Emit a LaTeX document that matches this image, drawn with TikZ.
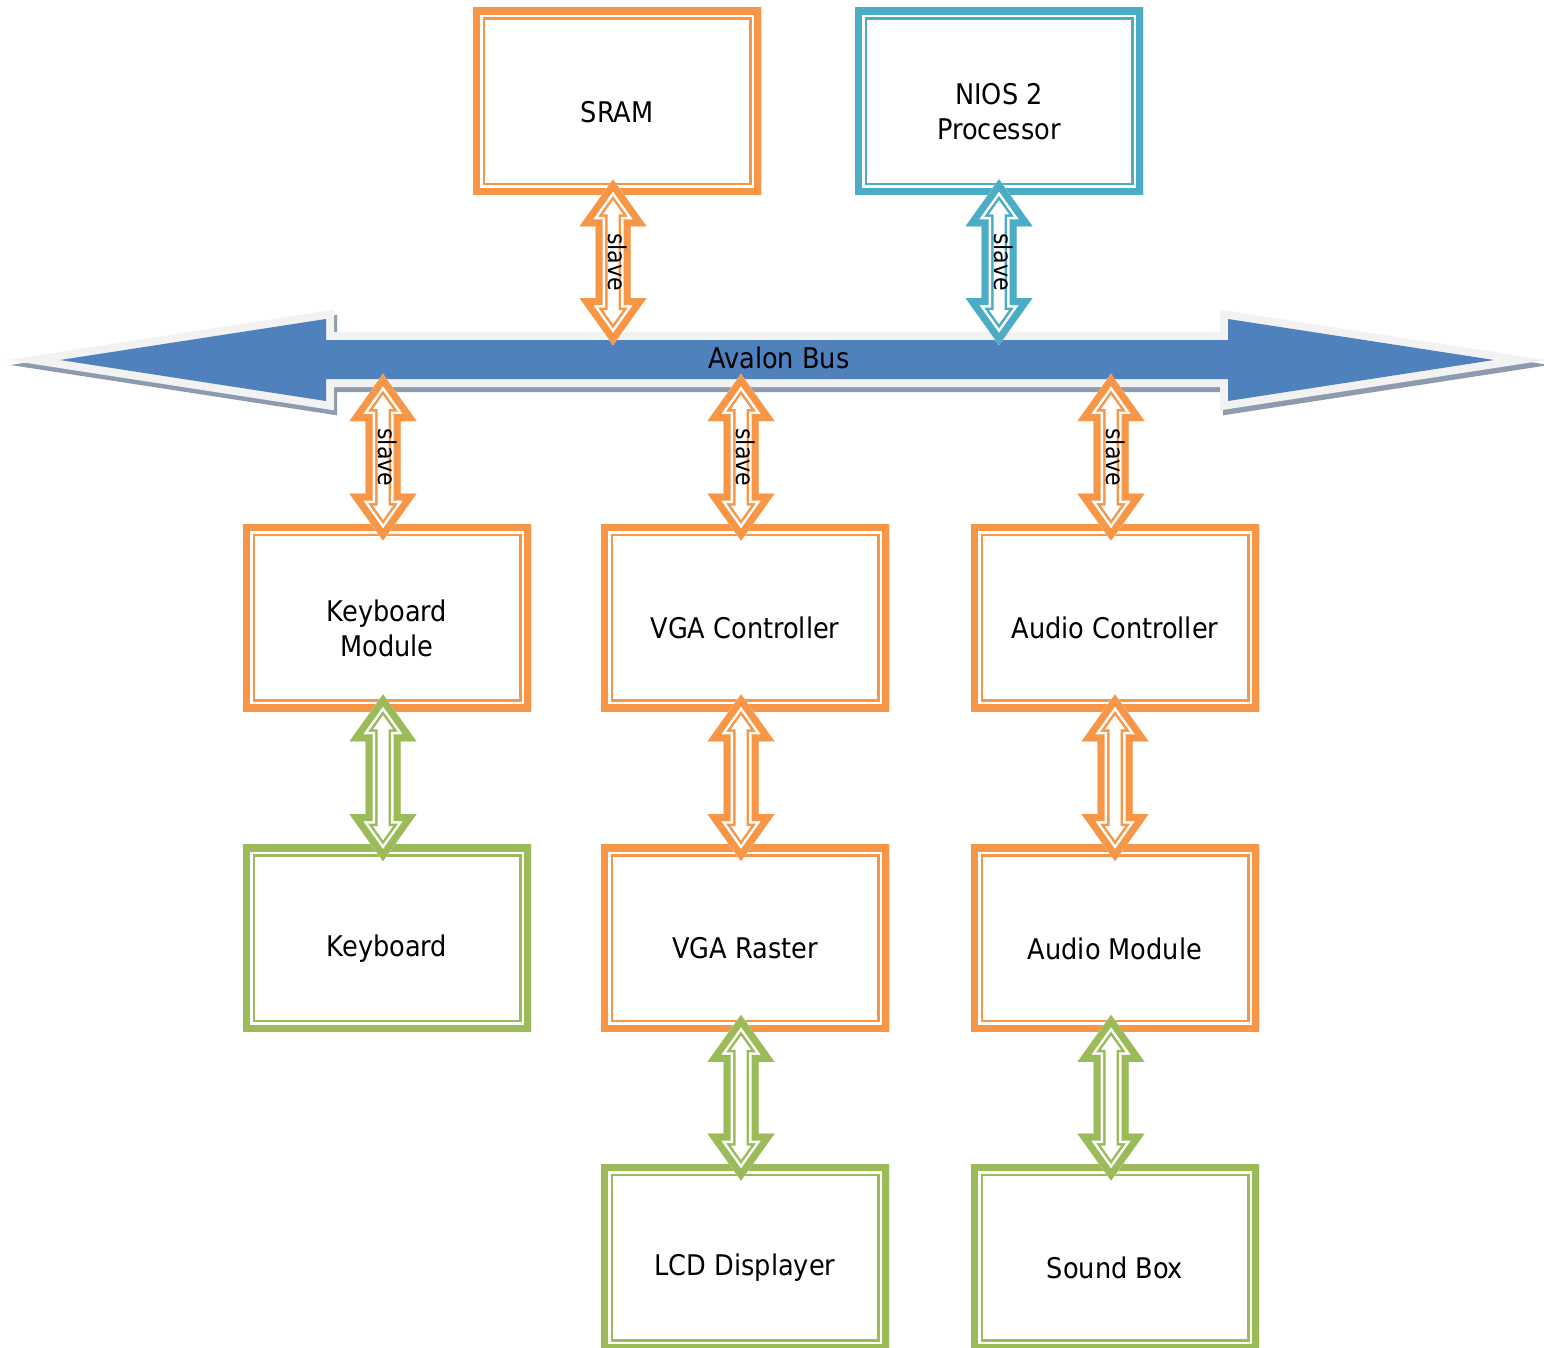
\documentclass[tikz,border=0pt]{standalone}
\usepackage{fontspec}
\setmainfont{DejaVu Sans Condensed}
\usetikzlibrary{calc}

\definecolor{orangeb}{HTML}{F79646}
\definecolor{blueb}{HTML}{4BACC6}
\definecolor{greenb}{HTML}{9BBB59}
\definecolor{busblue}{HTML}{4F81BD}
\definecolor{busedge}{HTML}{F2F2F2}
\definecolor{busshadow}{HTML}{8D9BAF}

\newcommand{\pxl}{0.02cm}
\newcommand{\dn}[1]{\raisebox{-6pt}[\height][\depth]{#1}}

% outline of a block double arrow from (t) down to (b)
\newcommand{\arrshape}{(t) -- ($(t)+(33.5,47)$) -- ($(t)+(17.5,47)$) -- ($(b)+(17.5,-47)$) -- ($(b)+(33.5,-47)$) -- (b) -- ($(b)+(-33.5,-47)$) -- ($(b)+(-17.5,-47)$) -- ($(t)+(-17.5,47)$) -- ($(t)+(-33.5,47)$) -- cycle}

\newcommand{\linkarrow}[3]{%
  \coordinate (t) at #2;
  \coordinate (b) at #3;
  \begin{scope}
    \clip \arrshape;
    \fill[white] \arrshape;
    \draw[#1, line width=24*\pxl] \arrshape;
    \draw[white, line width=19*\pxl] \arrshape;
    \draw[#1, line width=14*\pxl] \arrshape;
  \end{scope}}

\newcommand{\slavearrow}[4]{%
  \linkarrow{#1}{#3}{#4}
  \node[slavetext] (#2) at ($(t)!0.5!(b)+(5,0)$) {slave};}

\newcommand{\busshape}{(60,360) -- (326,319) -- (326,340) -- (1228,340) -- (1228,319) -- (1494,360) -- (1228,401) -- (1228,379) -- (326,379) -- (326,401) -- cycle}

\tikzset{
  unit/.style={rectangle, minimum width=288*\pxl, minimum height=187*\pxl, inner sep=0pt,
    align=center, font=\fontsize{16.2}{20}\selectfont,
    path picture={
      \draw[#1, line width=24*\pxl] (path picture bounding box.south west) rectangle (path picture bounding box.north east);
      \draw[white, line width=19*\pxl] (path picture bounding box.south west) rectangle (path picture bounding box.north east);
      \draw[#1, line width=14*\pxl] (path picture bounding box.south west) rectangle (path picture bounding box.north east);}},
  slavetext/.style={rotate=-90, inner sep=0pt, font=\fontsize{14}{14}\selectfont}
}

\begin{document}
\begin{tikzpicture}[x=0.02cm, y=-0.02cm]
\useasboundingbox (0,0) rectangle (1544,1348);

% bus
\draw[busshadow, fill=busshadow, line width=16*\pxl, shift={(3,5)}] \busshape;
\draw[busedge, line width=16*\pxl] \busshape;
\fill[busblue] \busshape;
\coordinate (bus) at (777,360);
\node[font=\fontsize{16.2}{20}\selectfont] (buslabel) at (779,358) {Avalon Bus};

% boxes
\node[unit=orangeb] (sram) at (617,101.5) {\dn{SRAM}};
\node[unit=blueb]   (nios) at (999,101.5) {\dn{NIOS 2}\\\dn{Processor}};

\node[unit=orangeb] (kbm)  at (387,617.5) {\dn{Keyboard}\\\dn{Module}};
\node[unit=orangeb] (vgac) at (745,617.5) {\dn{VGA Controller}};
\node[unit=orangeb] (audc) at (1115,617.5) {\dn{Audio Controller}};

\node[unit=greenb]  (kbd)  at (387,938) {\dn{Keyboard}};
\node[unit=orangeb] (vgar) at (745,938) {\dn{VGA Raster}};
\node[unit=orangeb] (audm) at (1115,938) {\dn{Audio Module}};

\node[unit=greenb]  (lcd)  at (745,1257.5) {\dn{LCD Displayer}};
\node[unit=greenb]  (sbox) at (1115,1257.5) {\dn{Sound Box}};

% arrows to the bus
\slavearrow{orangeb}{sl1}{($(sram.south)+(-4,-16)$)}{($(sram.south |- bus)+(-4,-15)$)}
\slavearrow{blueb}{sl2}{($(nios.south)+(0,-16)$)}{($(nios.south |- bus)+(0,-15)$)}
\slavearrow{orangeb}{sl3}{($(kbm.north |- bus)+(-4,14)$)}{($(kbm.north)+(-4,17)$)}
\slavearrow{orangeb}{sl4}{($(vgac.north |- bus)+(-4,14)$)}{($(vgac.north)+(-4,17)$)}
\slavearrow{orangeb}{sl5}{($(audc.north |- bus)+(-4,14)$)}{($(audc.north)+(-4,17)$)}

% arrows between boxes
\linkarrow{greenb}{($(kbm.south)+(-4,-17)$)}{($(kbd.north)+(-4,17)$)}
\linkarrow{orangeb}{($(vgac.south)+(-4,-17)$)}{($(vgar.north)+(-4,17)$)}
\linkarrow{orangeb}{($(audc.south)+(0,-17)$)}{($(audm.north)+(0,17)$)}
\linkarrow{greenb}{($(vgar.south)+(-4,-17)$)}{($(lcd.north)+(-4,17)$)}
\linkarrow{greenb}{($(audm.south)+(-4,-17)$)}{($(sbox.north)+(-4,17)$)}

\end{tikzpicture}
\end{document}
